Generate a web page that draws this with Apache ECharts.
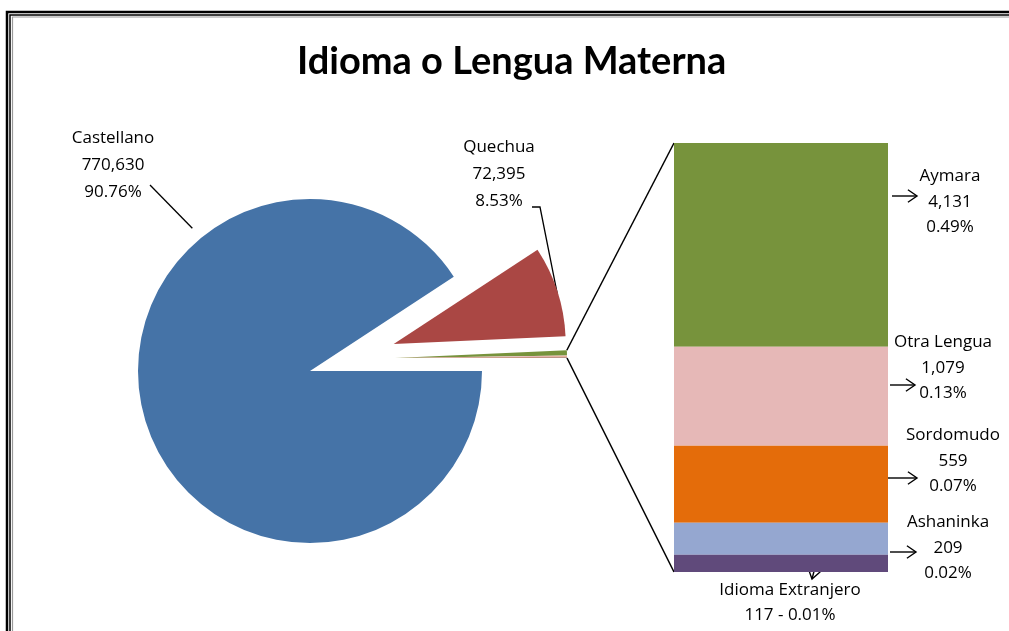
<!DOCTYPE html>
<html>
<head>
<meta charset="utf-8">
<title>Idioma o Lengua Materna</title>
<script src="https://cdn.jsdelivr.net/npm/echarts@6/dist/echarts.min.js"></script>
<style>
  html, body { margin: 0; padding: 0; background: #fff; }
  #chart { width: 1009px; height: 631px; }
</style>
</head>
<body>
<div id="chart"></div>
<script>
// datos del gráfico
var idiomas = ['Castellano', 'Quechua', 'Aymara', 'Otra Lengua', 'Sordomudo', 'Ashaninka', 'Idioma Extranjero'];
var personas = [770630, 72395, 4131, 1079, 559, 209, 117];
// alto de cada tramo de la barra tal como aparece dibujado (% del alto de la barra)
var tramosBarra = [47.5, 23.1, 17.9, 7.5, 4.0];

var colores = ['#4573A7', '#AA4744', '#77933C', '#E6B8B7', '#E46C0A', '#95A7D0', '#604A7B'];
var fuente = "'Open Sans', sans-serif";

var total = personas.reduce(function (a, b) { return a + b; }, 0);
function miles(n) { return String(n).replace(/\B(?=(\d{3})+(?!\d))/g, ','); }
function pct(i) { return (personas[i] / total * 100).toFixed(2) + '%'; }

// geometria de la torta
var R = 172;
var c1 = [310, 371];      // Castellano
var c2 = [393.7, 344];    // Quechua (separada)
var c3 = [395, 358];      // resto (separada)
function polar(c, r, deg) {
  var a = deg * Math.PI / 180;
  return [c[0] + r * Math.cos(a), c[1] - r * Math.sin(a)];
}
var restoAng = 360 * (total - personas[0] - personas[1]) / total;

// barra
var barra = { left: 674, top: 143, width: 214, height: 429 };

var textoBase = { fontFamily: fuente, fontSize: 17, lineHeight: 27, color: '#000' };

function serieTorta(centro, visibles) {
  return {
    type: 'pie',
    center: centro,
    radius: R,
    startAngle: 0,
    clockwise: true,
    avoidLabelOverlap: false,
    animation: false,
    silent: true,
    itemStyle: { borderWidth: 0 },
    label: { show: false },
    labelLine: { show: false },
    emphasis: { disabled: true },
    data: idiomas.map(function (n, i) {
      var ver = visibles.indexOf(i) >= 0;
      return {
        name: n,
        value: personas[i],
        itemStyle: { color: ver ? colores[i] : 'rgba(0,0,0,0)' }
      };
    })
  };
}

var s1 = serieTorta(c1, [0]);
s1.data[0].label = Object.assign({ show: true, formatter: function () { return idiomas[0] + '\n' + miles(personas[0]) + '\n' + pct(0); } }, textoBase);
s1.data[0].labelLine = { show: true, lineStyle: { color: '#000', width: 1.3 } };
s1.labelLayout = function (p) {
  if (p.dataIndex !== 0) return {};
  return {
    x: 113, y: 165, align: 'center', verticalAlign: 'middle',
    labelLinePoints: [polar(c1, 185, 129.5), [150, 185], [150, 185]]
  };
};

var s2 = serieTorta(c2, [1]);
s2.data[1].label = Object.assign({ show: true, formatter: function () { return idiomas[1] + '\n' + miles(personas[1]) + '\n' + pct(1); } }, textoBase);
s2.data[1].labelLine = { show: true, lineStyle: { color: '#000', width: 1.3 } };
s2.labelLayout = function (p) {
  if (p.dataIndex !== 1) return {};
  return {
    x: 499, y: 174, align: 'center', verticalAlign: 'middle',
    labelLinePoints: [polar(c2, 171, 16.7), [540, 207], [532, 207]]
  };
};

var s3 = serieTorta(c3, [2, 3, 4, 5, 6]);

// posicion de cada etiqueta respecto al tramo de la barra
var posEtiquetas = [[276, 59], [269, 21], [279, 15], [274, 25], [116, 48]];

var seriesBarra = tramosBarra.map(function (v, k) {
  var i = k + 2;
  return {
    type: 'bar',
    name: idiomas[i],
    stack: 'otros',
    data: [v],
    barWidth: '100%',
    animation: false,
    silent: true,
    itemStyle: { color: colores[i] },
    label: Object.assign({
      show: true,
      position: posEtiquetas[k],
      align: 'center',
      verticalAlign: 'middle',
      formatter: function () {
        if (i === 6) return idiomas[i] + '\n' + miles(personas[i]) + ' - ' + pct(i);
        return idiomas[i] + '\n' + miles(personas[i]) + '\n' + pct(i);
      }
    }, textoBase, { lineHeight: 25.5 })
  };
});

// flechas de las etiquetas
function flecha(x1, y1, x2, y2) {
  var a = Math.atan2(y2 - y1, x2 - x1), L = 11, w = 0.6;
  return [
    { type: 'line', silent: true, shape: { x1: x1, y1: y1, x2: x2, y2: y2 }, style: { stroke: '#000', lineWidth: 1.4 } },
    { type: 'polyline', silent: true,
      shape: { points: [
        [x2 - L * Math.cos(a - w), y2 - L * Math.sin(a - w)],
        [x2, y2],
        [x2 - L * Math.cos(a + w), y2 - L * Math.sin(a + w)]
      ] },
      style: { stroke: '#000', lineWidth: 1.4, fill: null } }
  ];
}

var graficos = [
  // marco
  { type: 'rect', silent: true, shape: { x: 7, y: 12, width: 1300, height: 900 }, style: { fill: null, stroke: '#000', lineWidth: 2.5 } },
  { type: 'rect', silent: true, shape: { x: 10, y: 15, width: 1300, height: 900 }, style: { fill: null, stroke: '#000', lineWidth: 1.5 } },
  { type: 'rect', silent: true, shape: { x: 12.5, y: 17, width: 1300, height: 900 }, style: { fill: null, stroke: '#9a9a9a', lineWidth: 1.2 } }
];
// lineas de union torta-barra
var pArriba = polar(c3, R, restoAng), pAbajo = polar(c3, R, 0);
graficos.push({ type: 'line', silent: true, shape: { x1: pArriba[0], y1: pArriba[1], x2: barra.left, y2: barra.top }, style: { stroke: '#000', lineWidth: 1.5 } });
graficos.push({ type: 'line', silent: true, shape: { x1: pAbajo[0], y1: pAbajo[1], x2: barra.left, y2: barra.top + barra.height }, style: { stroke: '#000', lineWidth: 1.5 } });
graficos = graficos
  .concat(flecha(892, 196, 917, 196))
  .concat(flecha(890, 385, 915, 385))
  .concat(flecha(888, 478, 917, 478))
  .concat(flecha(890, 552, 916, 552))
  .concat(flecha(817, 560, 812, 579));

var chart = echarts.init(document.getElementById('chart'));
var option = {
  backgroundColor: '#fff',
  animation: false,
  title: {
    text: 'Idioma o Lengua Materna',
    left: 292,
    top: 38,
    textStyle: { fontFamily: 'Lato, sans-serif', fontWeight: 'bold', fontSize: 38, color: '#000' }
  },
  grid: { left: barra.left, top: barra.top, width: barra.width, height: barra.height },
  xAxis: { type: 'category', data: ['Otros'], show: false },
  yAxis: { type: 'value', min: 0, max: 100, inverse: true, show: false },
  graphic: graficos,
  series: [s1, s2, s3].concat(seriesBarra)
};
chart.setOption(option);
</script>
</body>
</html>
